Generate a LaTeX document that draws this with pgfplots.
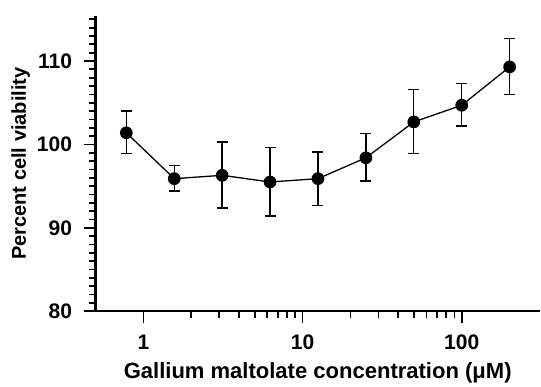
\documentclass[border=0pt]{standalone}
\usepackage{pgfplots}
\pgfplotsset{compat=1.18}
\usepackage{fontspec}
\setmainfont{Liberation Sans}
\pgfplotstableread{
x y ep em
0.78125 101.4 2.6 2.5
1.5625 95.9 1.6 1.5
3.125 96.3 4.0 3.9
6.25 95.5 4.1 4.1
12.5 95.9 3.2 3.2
25 98.4 2.9 2.8
50 102.7 3.9 3.8
100 104.7 2.6 2.5
200 109.3 3.4 3.3
}\datatable
\begin{document}
\begin{tikzpicture}
\begin{axis}[
  scale only axis, width=444pt, height=295pt,
  xmode=log, xmin=0.5, xmax=310, ymin=80, ymax=115.4,
  every non boxed x axis/.style={}, every non boxed y axis/.style={},
  axis x line=bottom, axis y line=left,
  axis line style={-, line width=2.2pt},
  xtick={1,10,100}, xticklabels={1,10,100},
  ytick={80,90,100,110},
  minor ytick={81,...,89,91,92,...,99,101,102,...,109,111,112,...,115},
  tick align=outside,
  major tick length=12pt, minor tick length=7pt,
  every tick/.style={black, line width=1.8pt},
  xticklabel shift=8pt, yticklabel shift=8pt,
  ticklabel style={font=\bfseries\fontsize{21}{21}\selectfont},
  /pgf/number format/assume math mode=true,
  xlabel={Gallium maltolate concentration (μM)},
  ylabel={Percent cell viability},
  xlabel shift=6pt, ylabel shift=0pt,
  xlabel style={font=\bfseries\fontsize{22}{22}\selectfont},
  ylabel style={font=\bfseries\fontsize{20}{20}\selectfont},
  clip=false,
]
\addplot[black, line width=1.3pt, mark=*, mark size=5.7pt,
  error bars/.cd, y dir=both, y explicit,
  error bar style={line width=1.4pt},
  error mark options={black, rotate=90, line width=1.4pt, mark size=5.5pt}]
  table[x=x, y=y, y error plus=ep, y error minus=em] {\datatable};
\end{axis}
\path ([yshift=16pt]current axis.north);
\path (current bounding box.west) ++(-8pt,0);
\end{tikzpicture}
\end{document}
